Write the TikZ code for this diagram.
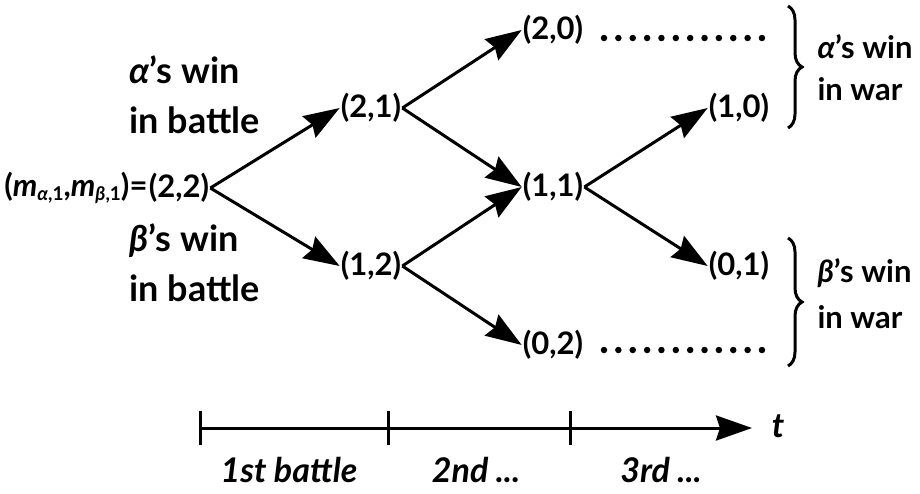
\documentclass[tikz,border=0pt]{standalone}
\usepackage{fontspec}
\setmainfont{Lato Bold}[ItalicFont={Lato Bold Italic}]
\usetikzlibrary{positioning,arrows.meta,decorations.pathreplacing}
\newcommand{\lowsub}[1]{\raisebox{-0.3ex}{\fontsize{19}{19}\selectfont #1}}

\begin{document}
\begin{tikzpicture}[x=1pt,y=-1pt,
  every node/.style={font=\fontsize{31}{46}\selectfont},
  lbl/.style={align=left, font=\fontsize{36}{50}\selectfont},
  state/.style={inner sep=1pt, on grid},
  move/.style={line width=3pt, -{Stealth[length=36pt,width=25pt,inset=4pt]}},
  brc/.style={decorate, decoration={brace,amplitude=14pt}, line width=3pt},
  dots/.style={line width=6.5pt, line cap=round, dash pattern=on 0pt off 14.36pt}]
\useasboundingbox (0,0) rectangle (920,493);

% states of the war
\node[state] (s22) at (179,188) {(2,2)};
\node[inner sep=0pt, anchor=east] (m) at (s22.west)
  {(\textit{m}\lowsub{\textit{α},1},\textit{m}\lowsub{\textit{β},1})=};
\node[state, above right = 80pt and 192pt of s22] (s21) {(2,1)};
\node[state, below right = 78pt and 192pt of s22] (s12) {(1,2)};
\node[state, above right = 78pt and 182pt of s21] (s20) {(2,0)};
\node[state, below right = 79pt and 182pt of s21] (s11) {(1,1)};
\node[state, below right = 79pt and 182pt of s12] (s02) {(0,2)};
\node[state, above right = 79pt and 186pt of s11] (s10) {(1,0)};
\node[state, below right = 79pt and 186pt of s11] (s01) {(0,1)};

\node[lbl, anchor=west] (aw) at (126,95) {\textit{α}’s win\\in battle};
\node[lbl, anchor=west] (bw) at (126,263) {\textit{β}’s win\\in battle};

\draw[move] (s22.east) -- (s21.west);
\draw[move] (s22.east) -- (s12.west);
\draw[move] (s21.east) -- (s20.west);
\draw[move] (s21.east) -- (s11.west);
\draw[move] (s12.east) -- (s11.west);
\draw[move] (s12.east) -- (s02.west);
\draw[move] (s11.east) -- (s10.west);
\draw[move] (s11.east) -- (s01.west);

% continuing wars
\coordinate (d1) at (604,38);
\coordinate (d2) at (762,38);
\coordinate (d3) at (604,350);
\coordinate (d4) at (762,350);
\draw[dots] (d1) -- (d2);
\draw[dots] (d3) -- (d4);

% outcome of the war
\coordinate (b1) at (788,6);
\coordinate (b2) at (788,128);
\coordinate (b3) at (788,238);
\coordinate (b4) at (788,366);
\draw[brc] (b1) -- (b2);
\draw[brc] (b3) -- (b4);
\node[lbl, font=\fontsize{31}{42}\selectfont, anchor=west] (aww) at (814,68) {\textit{α}’s win\\in war};
\node[lbl, font=\fontsize{31}{46}\selectfont, anchor=west] (bww) at (814,294) {\textit{β}’s win\\in war};

% time axis
\coordinate (t0) at (200,428);
\coordinate (t1) at (388,428);
\coordinate (t2) at (570,428);
\coordinate (t3) at (752,428);
\draw[move] (t0) -- (t3);
\foreach \t in {t0,t1,t2}
  \draw[line width=3pt] (\t) ++(0,-17) -- ++(0,34);
\node[font=\fontsize{34}{40}\selectfont] (t) at (778,426) {\textit{t}};
\node[font=\fontsize{34}{40}\selectfont] (l1) at (289,470) {\textit{1st battle}};
\node[font=\fontsize{34}{40}\selectfont] (l2) at (476,470) {\textit{2nd ...}};
\node[font=\fontsize{34}{40}\selectfont] (l3) at (661,470) {\textit{3rd ...}};
\end{tikzpicture}
\end{document}
